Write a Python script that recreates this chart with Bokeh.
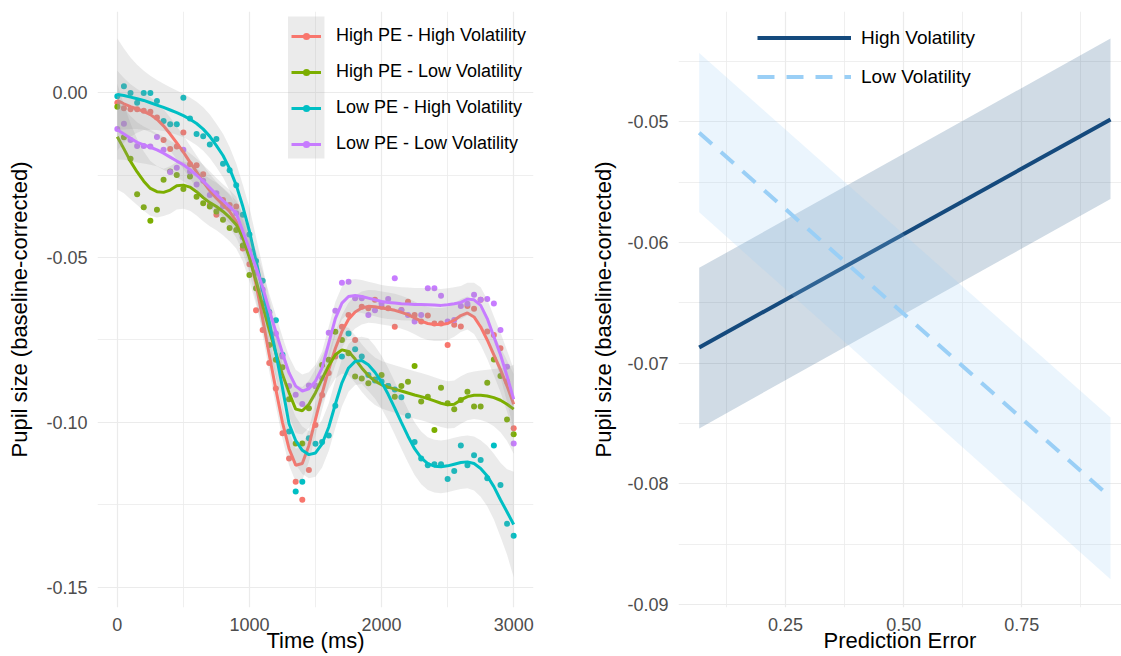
import numpy as np
from bokeh.plotting import figure
from bokeh.models import (Range1d, FixedTicker, NumeralTickFormatter, Legend, LegendItem,
                          BoxAnnotation)
from bokeh.layouts import row
from bokeh.embed import file_html
from bokeh.resources import INLINE

FONT = "Liberation Sans"

# ---------------- data: left panel ----------------
time_ms = list(range(0, 3001, 50))
condition_labels = ["High PE - High Volatility", "High PE - Low Volatility",
                    "Low PE - High Volatility", "Low PE - Low Volatility"]
condition_colors = ["#F8766D", "#7CAE00", "#00BFC4", "#C77CFF"]

hphv_points = [-0.0030, -0.0047, -0.0050, -0.0050, -0.0054, -0.0057, -0.0075, -0.0143, -0.0170, -0.0163,
               -0.0120, -0.0217, -0.0220, -0.0247, -0.0340, -0.0370, -0.0325, -0.0340, -0.0345, -0.0472,
               -0.0520, -0.0660, -0.0720, -0.0820, -0.0897, -0.1033, -0.1110, -0.1180, -0.1235, -0.1145,
               -0.1008, -0.0917, -0.0850, -0.0800, -0.0710, -0.0674, -0.0750, -0.0649, -0.0654, -0.0628,
               -0.0649, -0.0654, -0.0710, -0.0659, -0.0634, -0.0674, -0.0694, -0.0676, -0.0700, -0.0700,
               -0.0765, -0.0704, -0.0709, -0.0647, -0.0655, -0.0628, -0.0724, -0.0735, -0.0775, -0.0876,
               -0.1018]
hplv_points = [-0.0042, -0.0135, -0.0200, -0.0308, -0.0347, -0.0388, -0.0355, -0.0264, -0.0239, -0.0249,
               -0.0292, -0.0254, -0.0315, -0.0335, -0.0345, -0.0360, -0.0385, -0.0410, -0.0416, -0.0463,
               -0.0553, -0.0593, -0.0640, -0.0765, -0.0810, -0.0833, -0.0930, -0.1064, -0.1064, -0.0957,
               -0.0890, -0.0826, -0.0810, -0.0725, -0.0750, -0.0790, -0.0861, -0.0867, -0.0881, -0.0870,
               -0.0856, -0.0890, -0.0922, -0.0890, -0.0877, -0.0829, -0.0937, -0.0922, -0.1023, -0.0895,
               -0.0942, -0.0960, -0.0932, -0.0907, -0.0952, -0.0952, -0.0880, -0.0809, -0.0859, -0.0991,
               -0.1036]
lphv_points = [-0.0010, 0.0020, 0.0000, -0.0030, 0.0000, 0.0000, -0.0025, -0.0085, -0.0095, -0.0095,
               -0.0015, -0.0078, -0.0125, -0.0132, -0.0157, -0.0140, -0.0215, -0.0235, -0.0280, -0.0370,
               -0.0430, -0.0510, -0.0570, -0.0665, -0.0690, -0.0795, -0.1028, -0.1210, -0.1180, -0.1048,
               -0.1065, -0.1060, -0.1040, -0.0950, -0.0800, -0.0730, -0.0778, -0.0800, -0.0856, -0.0873,
               -0.0876, -0.0890, -0.0900, -0.0924, -0.0980, -0.1060, -0.1110, -0.1130, -0.1127, -0.1127,
               -0.1172, -0.1148, -0.1070, -0.1130, -0.1100, -0.1114, -0.1170, -0.1070, -0.1190, -0.1308,
               -0.1344]
lplv_points = [-0.0110, -0.0094, -0.0143, -0.0161, -0.0161, -0.0163, -0.0134, -0.0173, -0.0240, -0.0227,
               -0.0173, -0.0239, -0.0278, -0.0267, -0.0310, -0.0305, -0.0344, -0.0350, -0.0365, -0.0438,
               -0.0480, -0.0546, -0.0597, -0.0667, -0.0730, -0.0800, -0.0890, -0.0916, -0.0944, -0.0888,
               -0.0890, -0.0866, -0.0728, -0.0661, -0.0576, -0.0573, -0.0623, -0.0623, -0.0674, -0.0660,
               -0.0639, -0.0626, -0.0563, -0.0660, -0.0674, -0.0694, -0.0674, -0.0593, -0.0593, -0.0616,
               -0.0694, -0.0689, -0.0647, -0.0640, -0.0613, -0.0628, -0.0626, -0.0639, -0.0720, -0.0831,
               -0.1064]

hphv_smooth = [-0.0023, -0.0033, -0.0042, -0.0049, -0.0056, -0.0066, -0.0080, -0.0100, -0.0125, -0.0152,
               -0.0180, -0.0210, -0.0240, -0.0270, -0.0297, -0.0320, -0.0340, -0.0360, -0.0390, -0.0435,
               -0.0495, -0.0580, -0.0686, -0.0795, -0.0900, -0.1000, -0.1080, -0.1130, -0.1125, -0.1070,
               -0.0990, -0.0912, -0.0840, -0.0776, -0.0724, -0.0687, -0.0665, -0.0653, -0.0648, -0.0649,
               -0.0653, -0.0656, -0.0660, -0.0666, -0.0673, -0.0683, -0.0693, -0.0700, -0.0703, -0.0703,
               -0.0700, -0.0690, -0.0676, -0.0668, -0.0680, -0.0710, -0.0750, -0.0795, -0.0840, -0.0890,
               -0.0945]
hplv_smooth = [-0.0133, -0.0170, -0.0208, -0.0240, -0.0268, -0.0290, -0.0300, -0.0302, -0.0295, -0.0282,
               -0.0280, -0.0286, -0.0300, -0.0318, -0.0333, -0.0345, -0.0360, -0.0378, -0.0400, -0.0440,
               -0.0500, -0.0570, -0.0645, -0.0720, -0.0790, -0.0855, -0.0910, -0.0960, -0.0965, -0.0945,
               -0.0910, -0.0868, -0.0828, -0.0795, -0.0780, -0.0785, -0.0808, -0.0835, -0.0858, -0.0875,
               -0.0886, -0.0893, -0.0899, -0.0905, -0.0911, -0.0917, -0.0922, -0.0928, -0.0935, -0.0942,
               -0.0947, -0.0945, -0.0932, -0.0922, -0.0918, -0.0918, -0.0920, -0.0925, -0.0933, -0.0945,
               -0.0960]
lphv_smooth = [-0.0005, -0.0008, -0.0013, -0.0018, -0.0023, -0.0030, -0.0037, -0.0044, -0.0052, -0.0060,
               -0.0069, -0.0080, -0.0093, -0.0110, -0.0132, -0.0160, -0.0190, -0.0230, -0.0280, -0.0345,
               -0.0420, -0.0510, -0.0600, -0.0695, -0.0790, -0.0895, -0.1005, -0.1055, -0.1085, -0.1098,
               -0.1093, -0.1065, -0.1015, -0.0945, -0.0880, -0.0835, -0.0815, -0.0812, -0.0825, -0.0848,
               -0.0878, -0.0915, -0.0957, -0.1000, -0.1042, -0.1080, -0.1108, -0.1125, -0.1133, -0.1135,
               -0.1132, -0.1127, -0.1122, -0.1120, -0.1125, -0.1140, -0.1163, -0.1195, -0.1235, -0.1272,
               -0.1310]
lplv_smooth = [-0.0112, -0.0125, -0.0138, -0.0150, -0.0158, -0.0165, -0.0173, -0.0183, -0.0195, -0.0207,
               -0.0218, -0.0233, -0.0250, -0.0268, -0.0288, -0.0308, -0.0327, -0.0345, -0.0365, -0.0420,
               -0.0475, -0.0530, -0.0590, -0.0660, -0.0725, -0.0790, -0.0850, -0.0890, -0.0905, -0.0898,
               -0.0875, -0.0835, -0.0760, -0.0685, -0.0638, -0.0618, -0.0615, -0.0618, -0.0623, -0.0628,
               -0.0633, -0.0636, -0.0638, -0.0640, -0.0641, -0.0642, -0.0642, -0.0643, -0.0644, -0.0645,
               -0.0643, -0.0640, -0.0636, -0.0626, -0.0628, -0.0645, -0.0685, -0.0740, -0.0795, -0.0860,
               -0.0930]

# confidence-band half widths (same 50 ms grid)
hphv_halfwidth = ([0.0090, 0.0078, 0.0068, 0.0061, 0.0056, 0.0053] + [0.0050] * 48 +
                  [0.0052, 0.0055, 0.0058, 0.0062, 0.0068, 0.0078, 0.0092])
hplv_halfwidth = ([0.0160, 0.0135, 0.0115, 0.0100, 0.0090, 0.0083, 0.0078] + [0.0072] * 48 +
                  [0.0075, 0.0080, 0.0087, 0.0097, 0.0112, 0.0135])
lphv_halfwidth = ([0.0170, 0.0143, 0.0120, 0.0103, 0.0090, 0.0082, 0.0076, 0.0072, 0.0069, 0.0067] +
                  [0.0066] * 10 + [0.0072] * 18 + [0.0080] * 16 +
                  [0.0082, 0.0086, 0.0092, 0.0100, 0.0112, 0.0130, 0.0160])
lplv_halfwidth = ([0.0090, 0.0078, 0.0068, 0.0061, 0.0056, 0.0053] + [0.0050] * 48 +
                  [0.0052, 0.0055, 0.0058, 0.0062, 0.0068, 0.0078, 0.0092])

# ---------------- data: right panel ----------------
pe_values = [0.0675, 0.9376]
vol_labels = ["High Volatility", "Low Volatility"]
high_fit = [-0.0687, -0.0498]
high_lower = [-0.0754, -0.0564]
high_upper = [-0.0621, -0.0431]
low_fit = [-0.0509, -0.0811]
low_lower = [-0.0575, -0.0879]
low_upper = [-0.0443, -0.0745]
high_color = "#154A7D"
low_color = "#9ACFF6"

left_x_ticks = [0, 1000, 2000, 3000]
left_y_ticks = [-0.15, -0.10, -0.05, 0.0]
right_x_ticks = [0.25, 0.50, 0.75]
right_y_ticks = [-0.09, -0.08, -0.07, -0.06, -0.05]


def style(p, xtitle, ytitle, ytitle_standoff):
    p.outline_line_color = None
    p.background_fill_color = "white"
    p.border_fill_color = "white"
    for ax in p.axis:
        ax.axis_line_color = None
        ax.major_tick_line_color = None
        ax.minor_tick_line_color = None
        ax.major_tick_out = 0
        ax.major_tick_in = 0
        ax.minor_tick_out = 0
        ax.minor_tick_in = 0
        ax.major_label_text_font = FONT
        ax.major_label_text_font_size = "18px"
        ax.major_label_text_color = "#4D4D4D"
        ax.axis_label_text_font = FONT
        ax.axis_label_text_font_size = "22px"
        ax.axis_label_text_font_style = "normal"
        ax.axis_label_text_color = "black"
    p.xaxis.axis_label = xtitle
    p.yaxis.axis_label = ytitle
    p.yaxis.major_label_standoff = 10
    p.yaxis.axis_label_standoff = ytitle_standoff
    p.xaxis.major_label_standoff = 10
    p.xaxis.axis_label_standoff = -6
    for g in (p.xgrid, p.ygrid):
        g.grid_line_color = "#EBEBEB"
        g.grid_line_width = 1.2
        g.minor_grid_line_color = "#EBEBEB"
        g.minor_grid_line_width = 0.8


# ---------------- left figure ----------------
p1 = figure(width=553, height=656, output_backend="svg", toolbar_location=None,
            x_range=Range1d(-150, 3150), y_range=Range1d(-0.1562, 0.0247),
            min_border_left=97, min_border_right=20, min_border_top=11, min_border_bottom=49)
p1.xaxis.ticker = FixedTicker(ticks=left_x_ticks, minor_ticks=[500, 1500, 2500])
p1.yaxis.ticker = FixedTicker(ticks=left_y_ticks, minor_ticks=[-0.125, -0.075, -0.025, 0.025])
p1.xaxis.formatter = NumeralTickFormatter(format="0")
p1.yaxis.formatter = NumeralTickFormatter(format="0.00")
style(p1, "Time (ms)", "Pupil size (baseline-corrected)", 11)

t = np.array(time_ms, dtype=float)
all_points = [hphv_points, hplv_points, lphv_points, lplv_points]
all_smooth = [hphv_smooth, hplv_smooth, lphv_smooth, lplv_smooth]
all_hw = [hphv_halfwidth, hplv_halfwidth, lphv_halfwidth, lplv_halfwidth]

point_rs = []
for pts, col in zip(all_points, condition_colors):
    point_rs.append(p1.scatter(t, pts, size=6, fill_color=col, line_color=None))

line_rs = []
for sm, hw, col in zip(all_smooth, all_hw, condition_colors):
    sm = np.array(sm)
    hw = np.array(hw)
    p1.varea(x=t, y1=sm - hw, y2=sm + hw, fill_color="#999999", fill_alpha=0.2)
    line_rs.append(p1.line(t, sm, line_color=col, line_width=3))

# grey key background of the legend (as in ggplot's smooth legend keys)
p1.add_layout(BoxAnnotation(left=1292, right=1568, top=0.0232, bottom=-0.0199,
                            fill_color="#999999", fill_alpha=0.2, line_color=None))
leg1 = Legend(items=[LegendItem(label=lab, renderers=[lr, pr])
                     for lab, lr, pr in zip(condition_labels, line_rs, point_rs)],
              location=(194, 453), padding=0, spacing=15, glyph_width=30, glyph_height=18,
              label_height=21, label_standoff=15, border_line_color=None,
              background_fill_alpha=0, label_text_font=FONT, label_text_font_size="18px",
              label_text_color="black")
p1.add_layout(leg1)

# ---------------- right figure ----------------
p2 = figure(width=568, height=656, output_backend="svg", toolbar_location=None,
            x_range=Range1d(0.0237, 0.0237 + 443 / 472.7), y_range=Range1d(-0.09024, -0.04086),
            min_border_left=125, min_border_right=0, min_border_top=11, min_border_bottom=49)
p2.xaxis.ticker = FixedTicker(ticks=right_x_ticks, minor_ticks=[0.125, 0.375, 0.625, 0.875])
p2.yaxis.ticker = FixedTicker(ticks=right_y_ticks,
                              minor_ticks=[-0.085, -0.075, -0.065, -0.055, -0.045])
p2.xaxis.formatter = NumeralTickFormatter(format="0.00")
p2.yaxis.formatter = NumeralTickFormatter(format="0.00")
style(p2, "Prediction Error", "Pupil size (baseline-corrected)", 8)

p2.varea(x=pe_values, y1=high_lower, y2=high_upper, fill_color=high_color, fill_alpha=0.2)
hl = p2.line(pe_values, high_fit, line_color=high_color, line_width=4)
p2.varea(x=pe_values, y1=low_lower, y2=low_upper, fill_color=low_color, fill_alpha=0.2)
ll = p2.line(pe_values, low_fit, line_color=low_color, line_width=4, line_dash="17 12")

leg2 = Legend(items=[LegendItem(label=vol_labels[0], renderers=[hl]),
                     LegendItem(label=vol_labels[1], renderers=[ll])],
              location=(79, 511), padding=0, spacing=0, glyph_width=94, glyph_height=39,
              label_height=39, label_standoff=10, border_line_color=None,
              background_fill_alpha=0, label_text_font=FONT, label_text_font_size="19px",
              label_text_color="black")
p2.add_layout(leg2)

layout = row(p1, p2)
open("out.html", "w").write(file_html(layout, INLINE))
